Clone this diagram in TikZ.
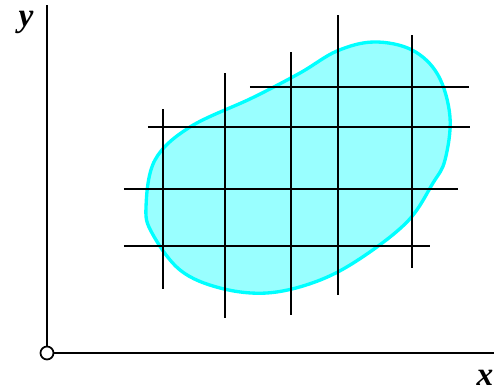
\documentclass[tikz,border=0pt]{standalone}
\usepackage{fontspec}
\setmainfont{Liberation Serif}
\usetikzlibrary{positioning}
\definecolor{aqua}{RGB}{0,255,255}
\definecolor{aqualight}{RGB}{153,255,255}

\begin{document}
\begin{tikzpicture}[
  x=0.02cm, y=0.02cm,
  axis/.style={line width=1.2pt, black},
  gridline/.style={line width=1.2pt, black},
  region/.style={draw=aqua, line width=1.9pt, fill=aqualight},
  lbl/.style={font=\fontsize{19}{21}\selectfont\bfseries\itshape},
  orig/.style={circle, draw, fill=white, line width=1pt, inner sep=0pt, minimum size=0.26cm}
]
  \useasboundingbox (-47,-39) rectangle (448,353);

  % region
  \draw[region] plot[smooth cycle, tension=0.6] coordinates {
    (327,311) (365,303) (391,278) (403,236) (398,193) (386,170)
    (360,131) (311,93) (268,71) (220,60) (173,65) (133,83)
    (105,120) (99,146) (108,193) (143,226) (205,255) (253,280) (290,302)};

  % grid
  \foreach \gx/\ylo/\yhi in {116/64/244, 178/35/280, 244/38/301, 291/58/338, 365/85/318}
    \draw[gridline] (\gx,\ylo) -- (\gx,\yhi);
  \foreach \gy/\xlo/\xhi in {266/203/422, 226/101/423, 164/77/411, 107/77/383}
    \draw[gridline] (\xlo,\gy) -- (\xhi,\gy);

  % axes
  \coordinate (xend) at (447,0);
  \coordinate (yend) at (0,348);
  \node[orig] (o) at (0,0) {};
  \draw[axis] (o) -- (xend);
  \draw[axis] (o) -- (yend);
  \node[lbl] (ylbl) at (-21,331) {y};
  \node[lbl] (xlbl) at (438,-25) {x};
\end{tikzpicture}
\end{document}
